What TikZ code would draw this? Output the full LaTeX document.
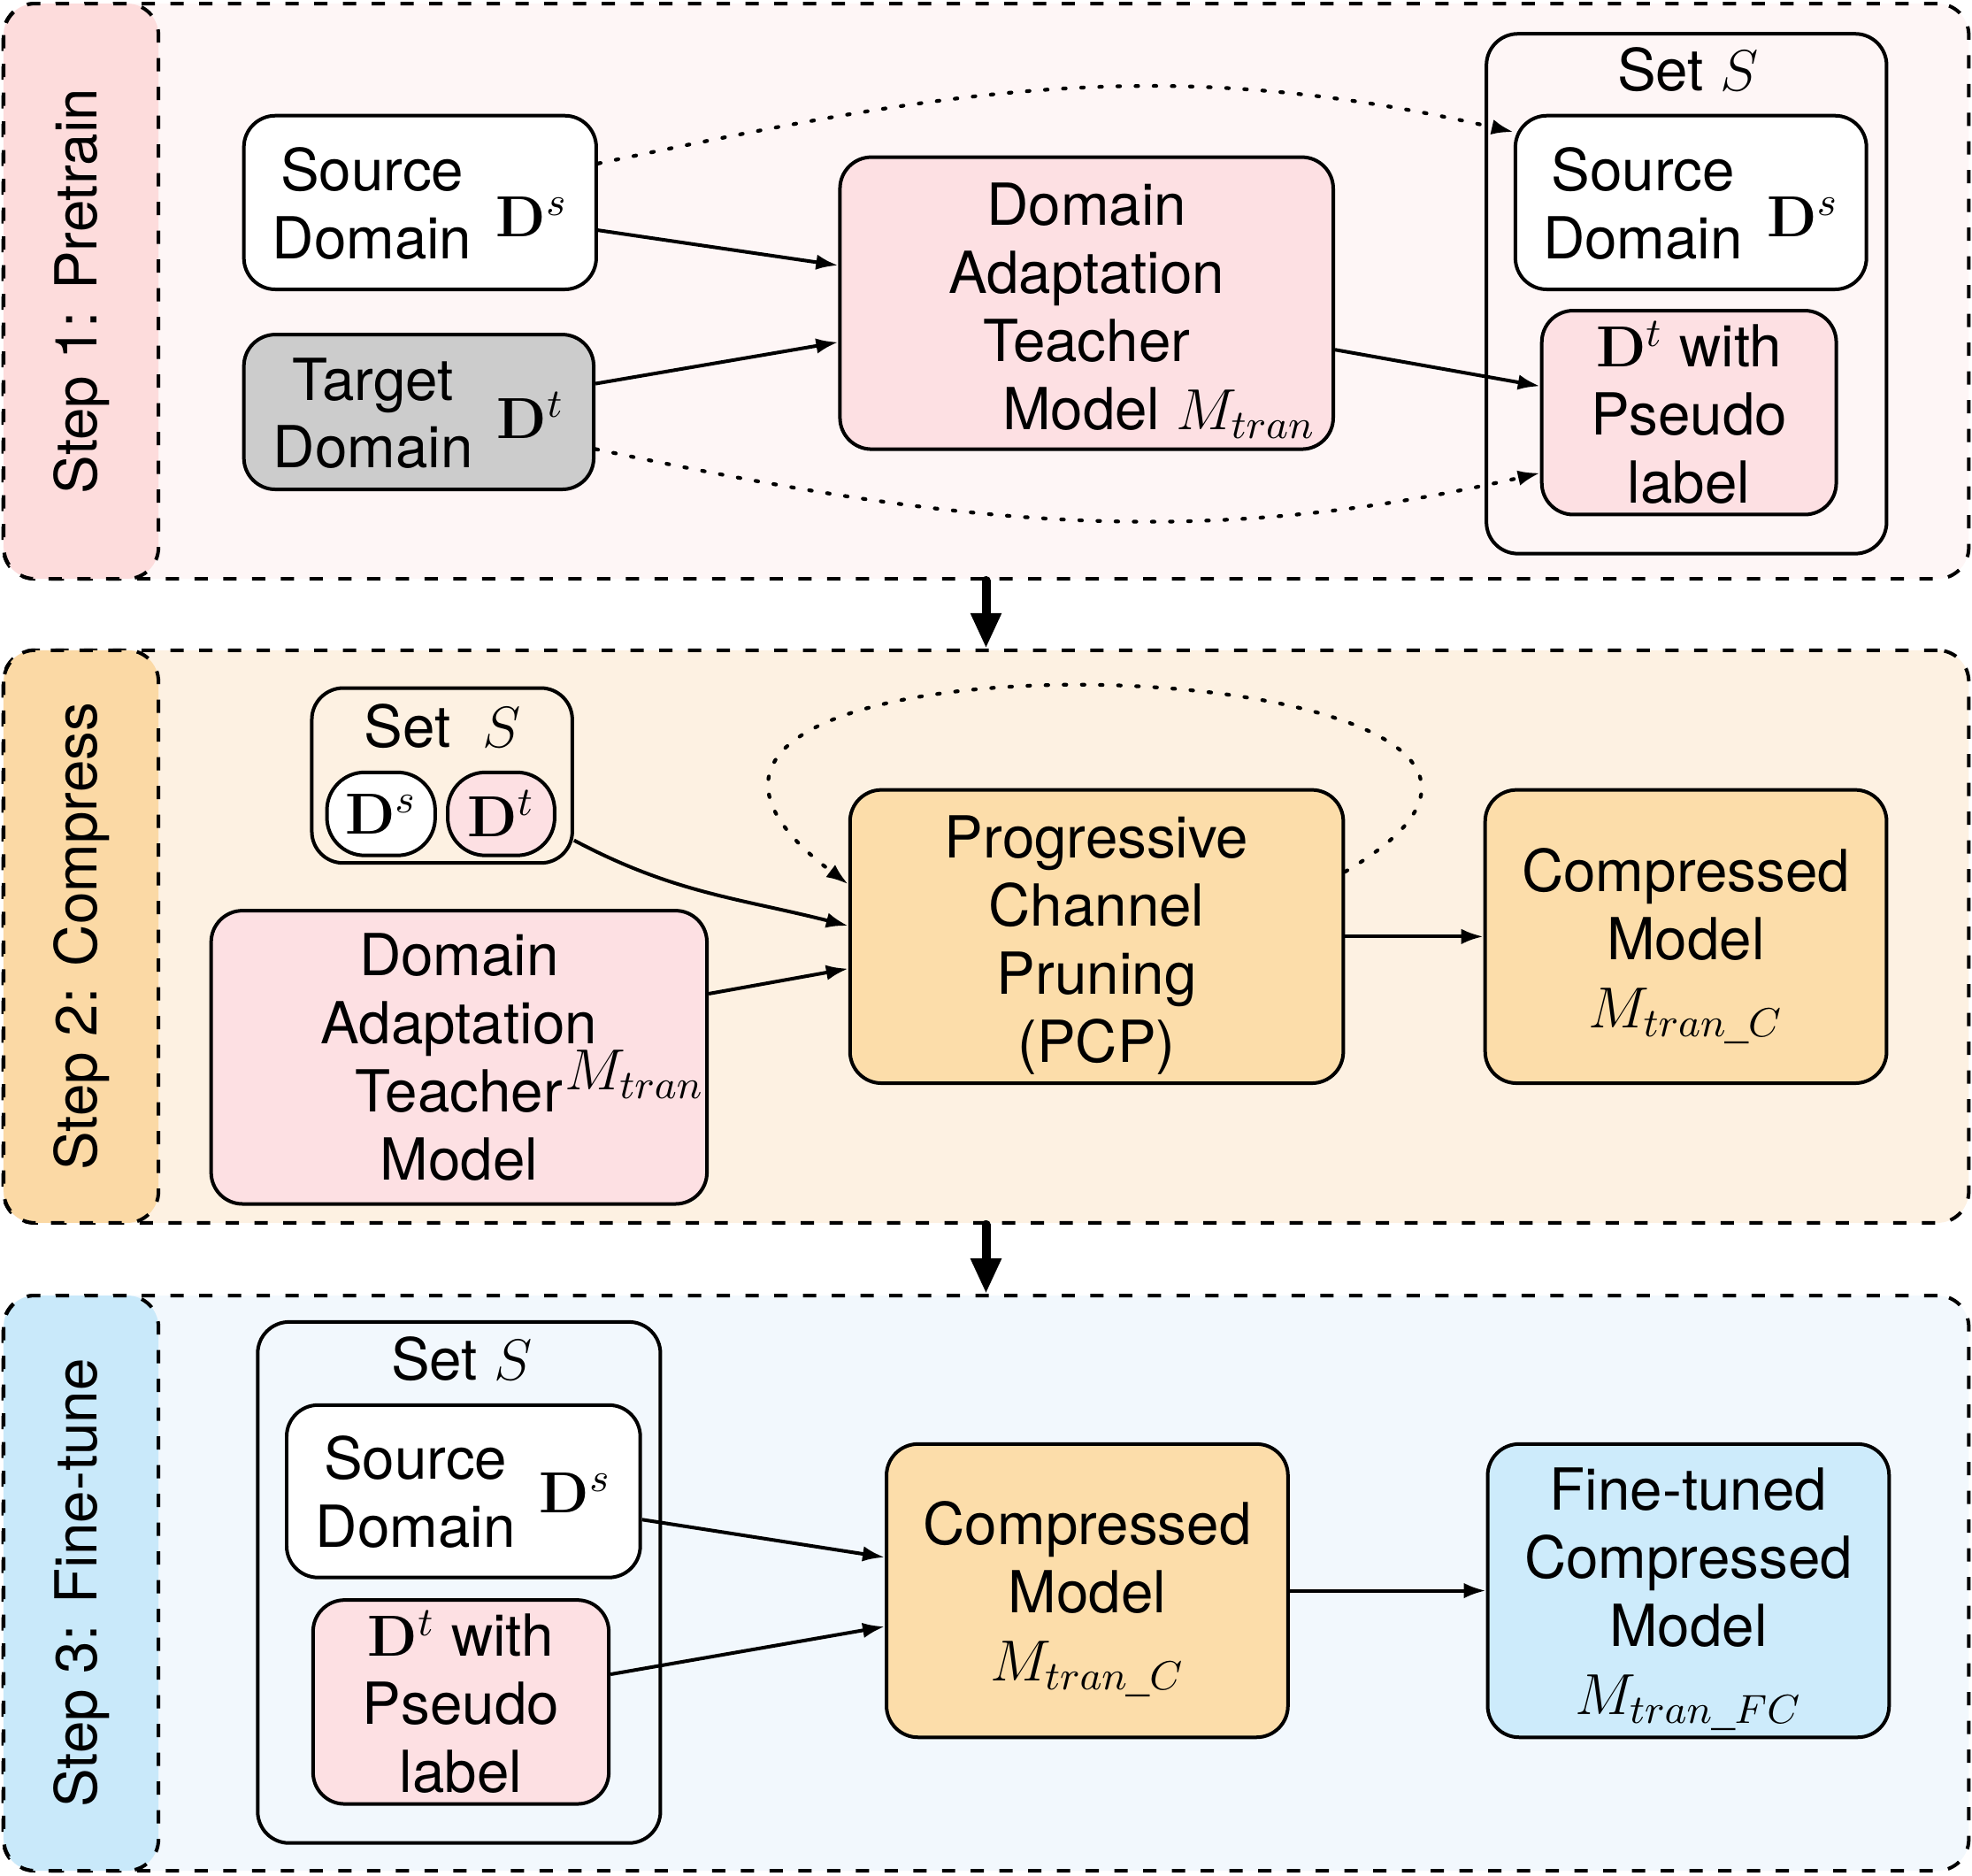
\RequirePackage{fix-cm}
\documentclass[tikz,border=0pt]{standalone}
\usepackage[no-math]{fontspec}
\setmainfont{TeX Gyre Heros}
\usepackage{amsmath}
\usetikzlibrary{arrows.meta,positioning}

\definecolor{pinkbg}{HTML}{FEF6F6}
\definecolor{pinklab}{HTML}{FDDCDC}
\definecolor{pinkbox}{HTML}{FDE0E3}
\definecolor{orangebg}{HTML}{FDF1E2}
\definecolor{orangelab}{HTML}{FBD9A5}
\definecolor{orangebox}{HTML}{FCDDAA}
\definecolor{bluebg}{HTML}{F2F8FD}
\definecolor{bluelab}{HTML}{C9E9FA}
\definecolor{bluebox}{HTML}{CDEBFB}
\definecolor{graybox}{HTML}{CCCCCC}

% strut for the first line of a box, and a two-line domain label
\newcommand{\topgap}[1]{\rule{0pt}{#1}}
\newcommand{\domlabel}[3]{\rule{0pt}{30pt}\begin{tabular}[b]{@{}c@{}}#1\\Domain\end{tabular}\hspace{5.5pt}\raisebox{#3}{$\mathbf{D}^#2$}}

\tikzset{
  box/.style={draw, line width=0.8pt, rounded corners=0.25cm, align=center, inner sep=0pt},
  panel/.style={draw, line width=0.8pt, dash pattern=on 3pt off 3.5pt, rounded corners=0.25cm, inner sep=0pt},
  steplab/.style={panel, rotate=90, minimum width=4.57cm, minimum height=1.23cm},
  flow/.style={-{Latex[length=5pt,width=3.5pt]}, line width=0.8pt},
  dotflow/.style={flow, line width=0.85pt, dash pattern=on 0.6pt off 3.5pt, line cap=round},
  bigflow/.style={-{Triangle[length=8pt,width=6.5pt]}, line width=2pt, line cap=round}
}

\begin{document}
\begin{tikzpicture}[x=0.01cm,y=-0.01cm,font=\fontsize{13.1pt}{15.4pt}\selectfont]
\useasboundingbox (0,0) rectangle (1568,1491);

% panels
\node[panel, fill=pinkbg, minimum width=15.62cm, minimum height=4.57cm] (p1) at (784,231.5) {};
\node[panel, fill=orangebg, minimum width=15.62cm, minimum height=4.55cm] (p2) at (784,744.5) {};
\node[panel, fill=bluebg, minimum width=15.62cm, minimum height=4.57cm] (p3) at (784,1258.5) {};
\node[steplab, fill=pinklab] (l1) at (64.5,231.5) {Step 1: Pretrain};
\node[steplab, fill=orangelab, minimum width=4.55cm] (l2) at (64.5,744.5) {Step 2: Compress};
\node[steplab, fill=bluelab] (l3) at (64.5,1258.5) {Step 3: Fine-tune};

\draw[bigflow] (p1.south) -- (p2.north);
\draw[bigflow] (p2.south) -- (p3.north);

% step 1
\node[box, fill=white, minimum width=2.80cm, minimum height=1.38cm] (src1) at (334,161)
  {\domlabel{Source}{s}{5pt}};
\node[box, fill=graybox, minimum width=2.78cm, minimum height=1.23cm] (tgt1) at (333,327.5)
  {\domlabel{Target}{t}{6.7pt}};
\node[box, fill=pinkbox, minimum width=3.92cm, minimum height=2.32cm] (teach1) at (864,241)
  {\topgap{13pt}Domain\\Adaptation\\Teacher\\\hspace*{2.5em}Model $M_{tran}$};
\node[box, minimum width=3.18cm, minimum height=4.13cm] (set1) at (1341,233.5) {};
\node (set1t) at (1342,55) {Set $S$};
\node[box, fill=white, minimum width=2.79cm, minimum height=1.38cm] (src1b) at (1344.5,161)
  {\domlabel{Source}{s}{5pt}};
\node[box, fill=pinkbox, minimum width=2.34cm, minimum height=1.62cm] (pl1) at (1343,328)
  {$\mathbf{D}^t$ with\\Pseudo\\label};

\draw[flow] ([yshift=-0.22cm]src1.east) -- ([yshift=0.30cm]teach1.west);
\draw[flow] ([yshift=0.225cm]tgt1.east) -- ([yshift=-0.31cm]teach1.west);
\draw[flow] ([yshift=-0.37cm]teach1.east) -- ([yshift=0.21cm]pl1.west);
\draw[dotflow] ([yshift=0.31cm]src1.east) .. controls +(280,-59) and +(-279,-64) .. ([yshift=0.56cm]src1b.west);
\draw[dotflow] ([yshift=-0.295cm]tgt1.east) .. controls +(280,59) and +(-279,64) .. ([yshift=-0.48cm]pl1.west);

% step 2
\node[box, minimum width=2.07cm, minimum height=1.39cm] (set2) at (351.5,616.5) {};
\node (set2t) at (352,577) {Set\ \ $S$};
\node[box, fill=white, rounded corners=0.3cm, minimum width=0.86cm, minimum height=0.66cm] (ds2) at (303,647) {$\mathbf{D}^s$};
\node[box, fill=pinkbox, rounded corners=0.3cm, minimum width=0.85cm, minimum height=0.66cm] (dt2) at (398.5,647) {$\mathbf{D}^t$};
\node[box, fill=pinkbox, minimum width=3.94cm, minimum height=2.33cm] (teach2) at (365,840.5)
  {Domain\\Adaptation\\Teacher\rlap{\hspace{0.5pt}\raisebox{5.1pt}[0pt][0pt]{$M_{tran}$}}\\Model};
\node[box, fill=orangebox, minimum width=3.92cm, minimum height=2.33cm] (pcp) at (872,744.5)
  {\topgap{13.5pt}Progressive\\Channel\\Pruning\\(PCP)};
\node[box, fill=orangebox, minimum width=3.19cm, minimum height=2.33cm] (cm2) at (1340.5,744.5)
  {\topgap{14pt}Compressed\\Model\\$M_{tran\_C}$};

\draw[flow] ([yshift=-0.515cm]set2.east) .. controls +(79,42) and +(-87,-22) .. ([yshift=0.085cm]pcp.west);
\draw[flow] ([yshift=0.505cm]teach2.east) -- ([yshift=-0.255cm]pcp.west);
\draw[flow] (pcp) -- (cm2);
\draw[dotflow] ([yshift=0.515cm]pcp.east) .. controls +(312,-183) and +(-296,-223) .. ([yshift=0.415cm]pcp.west);

% step 3
\node[box, minimum width=3.20cm, minimum height=4.14cm] (set3) at (365,1258) {};
\node (set3t) at (367,1080) {Set $S$};
\node[box, fill=white, minimum width=2.81cm, minimum height=1.37cm] (src3) at (368.5,1185.5)
  {\domlabel{Source}{s}{7.8pt}};
\node[box, fill=pinkbox, minimum width=2.35cm, minimum height=1.62cm] (pl3) at (366.5,1353)
  {$\mathbf{D}^t$ with\\Pseudo\\label};
\node[box, fill=orangebox, minimum width=3.19cm, minimum height=2.33cm] (cm3) at (864.5,1264.5)
  {\topgap{13.5pt}Compressed\\Model\\$M_{tran\_C}$};
\node[box, fill=bluebox, minimum width=3.19cm, minimum height=2.33cm] (ft) at (1342.5,1264.5)
  {\topgap{13.5pt}Fine-tuned\\Compressed\\Model\\$M_{tran\_FC}$};

\draw[flow] ([yshift=-0.225cm]src3.east) -- ([yshift=0.265cm]cm3.west);
\draw[flow] ([yshift=0.22cm]pl3.east) -- ([yshift=-0.285cm]cm3.west);
\draw[flow] (cm3) -- (ft);
\end{tikzpicture}
\end{document}
